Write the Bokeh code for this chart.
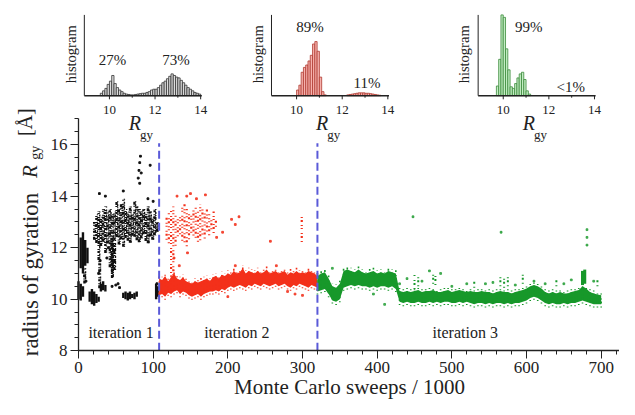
import math
from bokeh.plotting import figure
from bokeh.models import Range1d, SingleIntervalTicker
from bokeh.core.properties import value
from bokeh.embed import file_html
from bokeh.resources import INLINE

FONT = "Liberation Serif"

# ---------------- data ----------------
iteration_bounds = [108, 320]
iteration_names = ["iteration 1", "iteration 2", "iteration 3"]
iteration_label_x = [57, 212, 518]
iteration_label_y = [8.72, 8.72, 8.72]

# black (iteration 1): dense blobs (x, low, high)
black_seg_x = [0, 3, 6, 3, 6, 9, 12, 15, 18, 21, 24, 27, 30, 33, 36,
               60, 63, 66, 69, 72, 75, 78, 104, 106]
black_seg_lo = [10.0, 9.95, 10.1, 11.2, 11.0, 11.3, 11.4, 9.9, 9.8, 9.75, 9.85, 9.9,
                10.3, 10.35, 10.3, 10.05, 10.0, 9.95, 10.0, 10.05, 10.0, 10.1, 10.0, 10.1]
black_seg_hi = [10.7, 10.6, 10.5, 12.4, 12.6, 12.3, 12.0, 10.3, 10.4, 10.3, 10.2, 10.1,
                10.6, 10.7, 10.55, 10.25, 10.3, 10.25, 10.3, 10.2, 10.25, 10.3, 10.6, 10.5]
# black speckled cluster
black_dot_x = [21, 24, 27, 30, 33, 36, 39, 42, 45, 48, 51, 54, 57, 60, 63, 66, 69, 72,
               75, 78, 81, 84, 87, 90, 93, 96, 99, 102, 105, 8, 28, 45, 48]
black_dot_lo = [12.31, 12.18, 11.52, 12.07, 12.23, 11.79, 12.16, 11.24, 11.03, 12.28,
                12.41, 12.12, 12.33, 12.04, 12.38, 12.27, 12.19, 12.46, 12.42, 12.29,
                12.21, 12.37, 12.52, 12.26, 12.17, 12.43, 12.31, 12.48, 12.62, 10.61,
                10.43, 10.82, 11.13]
black_dot_hi = [13.0, 13.3, 13.4, 13.2, 13.5, 13.6, 13.4, 13.5, 13.3, 13.4, 13.8, 13.5,
                13.7, 13.9, 13.5, 13.4, 13.6, 13.3, 13.8, 13.6, 13.5, 13.4, 13.5, 13.3,
                13.6, 13.4, 13.2, 13.5, 13.0, 11.2, 11.5, 12.3, 12.3]
black_pt_x = [80, 81, 82, 83, 84, 82, 96, 93, 60, 36, 28, 100, 45, 50, 55, 53, 48, 47,
              46, 27, 29, 8, 10, 38, 40, 107, 105]
black_pt_y = [14.7, 15.0, 15.3, 15.55, 14.9, 14.5, 15.2, 13.9, 14.2, 14.0, 14.1, 13.8,
              10.5, 10.55, 10.45, 10.6, 11.5, 11.9, 11.3, 11.0, 11.5, 10.9, 10.7, 11.6,
              12.0, 10.4, 10.6]

# red (iteration 2): main band
red_x = [108, 112, 116, 120, 124, 128, 132, 136, 140, 144,
         148, 152, 156, 160, 164, 168, 172, 176, 180, 184,
         188, 192, 196, 200, 204, 208, 212, 216, 220, 224,
         228, 232, 236, 240, 244, 248, 252, 256, 260, 264,
         268, 272, 276, 280, 284, 288, 292, 296, 300, 304,
         308, 312, 316, 320]
red_lo = [10.15, 10.2, 10.1, 10.25, 10.2, 10.3, 10.35, 10.2, 10.3, 10.25,
          10.15, 10.1, 10.15, 10.2, 10.1, 10.2, 10.25, 10.3, 10.3, 10.35,
          10.3, 10.4, 10.35, 10.45, 10.5, 10.45, 10.5, 10.55, 10.5, 10.45,
          10.55, 10.5, 10.6, 10.55, 10.5, 10.6, 10.55, 10.5, 10.55, 10.6,
          10.5, 10.55, 10.6, 10.5, 10.45, 10.55, 10.5, 10.6, 10.55, 10.5,
          10.45, 10.55, 10.5, 10.45]
red_hi = [10.8, 10.75, 10.9, 10.7, 10.85, 11.0, 10.8, 10.75, 10.85, 10.7,
          10.65, 10.6, 10.7, 10.65, 10.7, 10.75, 10.8, 10.7, 10.85, 10.9,
          10.8, 10.95, 10.9, 11.0, 10.95, 11.1, 11.0, 11.05, 11.2, 11.0,
          11.1, 11.05, 11.0, 11.1, 11.0, 11.05, 11.15, 11.0, 11.05, 11.1,
          11.0, 11.05, 11.1, 10.95, 11.05, 11.0, 11.1, 11.0, 11.05, 11.0,
          11.1, 11.05, 11.0, 10.9]
# red speckled cluster
red_dot_x = [118, 121, 124, 127, 130, 133, 136, 139, 142, 145, 148, 151, 154, 157,
             160, 163, 166, 169, 172, 175, 178, 181, 184, 299]
red_dot_lo = [12.31, 12.17, 11.02, 10.93, 12.08, 12.44, 12.52, 12.27, 12.21, 12.06,
              12.33, 12.58, 12.47, 12.39, 12.23, 12.29, 12.51, 12.36, 12.63, 12.48,
              12.72, 12.57, 12.81, 12.22]
red_dot_hi = [13.2, 13.4, 13.5, 13.6, 13.3, 13.1, 13.2, 13.6, 13.7, 13.5, 13.4, 13.3,
              13.5, 13.6, 13.4, 13.7, 13.5, 13.4, 13.5, 13.3, 13.2, 13.4, 13.1, 13.3]
red_pt_x = [132, 150, 158, 185, 193, 205, 210, 215, 257, 146, 128, 135, 200, 210,
            280, 290, 300, 265, 145, 170]
red_pt_y = [14.0, 14.1, 13.9, 12.4, 12.6, 13.1, 12.9, 13.2, 12.25, 11.8, 11.6, 11.3,
            10.1, 11.3, 10.3, 10.2, 10.15, 11.3, 14.0, 14.05]

# green (iteration 3): main band
green_x = [320, 325, 330, 335, 340, 345, 350, 355, 360, 365,
           370, 375, 380, 385, 390, 395, 400, 405, 410, 415,
           420, 425, 430, 435, 440, 445, 450, 455, 460, 465,
           470, 475, 480, 485, 490, 495, 500, 505, 510, 515,
           520, 525, 530, 535, 540, 545, 550, 555, 560, 565,
           570, 575, 580, 585, 590, 595, 600, 605, 610, 615,
           620, 625, 630, 635, 640, 645, 650, 655, 660, 665,
           670, 675, 680, 685, 690, 695, 700]
green_lo = [10.3, 10.35, 10.4, 10.2, 9.95, 9.9, 10.0, 10.45, 10.5, 10.55,
            10.5, 10.55, 10.5, 10.5, 10.45, 10.5, 10.45, 10.5, 10.5, 10.45,
            10.5, 10.4, 9.9, 9.85, 9.9, 9.85, 9.85, 9.9, 9.85, 9.85,
            9.9, 9.85, 9.9, 9.85, 9.9, 9.9, 9.85, 9.85, 9.9, 9.85,
            9.9, 9.85, 9.8, 9.85, 9.85, 9.8, 9.85, 9.8, 9.85, 9.85,
            9.8, 9.85, 9.8, 9.85, 9.85, 9.9, 9.95, 10.05, 10.1, 10.05,
            9.95, 9.85, 9.8, 9.85, 9.8, 9.8, 9.85, 9.8, 9.85, 9.85,
            9.9, 9.95, 9.9, 9.85, 9.8, 9.8, 9.8]
green_hi = [10.9, 11.0, 11.05, 10.8, 10.5, 10.45, 10.6, 11.1, 11.15, 11.1,
            11.05, 11.15, 11.05, 11.0, 11.05, 11.1, 11.0, 11.05, 11.0, 11.1,
            11.05, 11.0, 10.32, 10.28, 10.32, 10.28, 10.32, 10.36, 10.28, 10.32,
            10.32, 10.36, 10.28, 10.28, 10.32, 10.36, 10.28, 10.32, 10.36, 10.32,
            10.28, 10.32, 10.28, 10.28, 10.32, 10.28, 10.28, 10.22, 10.28, 10.32,
            10.28, 10.28, 10.22, 10.28, 10.32, 10.36, 10.42, 10.5, 10.55, 10.5,
            10.42, 10.28, 10.22, 10.28, 10.22, 10.28, 10.22, 10.22, 10.28, 10.32,
            10.36, 10.5, 10.42, 10.28, 10.22, 10.18, 10.15]
green_spike_x = [675, 678]
green_spike_lo = [10.55, 10.6]
green_spike_hi = [11.1, 11.15]
green_dot_x = [450, 455, 475, 478, 530, 565, 570, 575, 595, 640, 695]
green_dot_lo = [10.4, 10.5, 10.6, 10.55, 10.45, 10.5, 10.45, 10.5, 10.6, 10.5, 10.5]
green_dot_hi = [10.95, 11.0, 11.05, 10.9, 10.7, 10.95, 10.9, 10.85, 10.95, 10.8, 10.8]
green_pt_x = [448, 566, 681, 681, 681, 430, 440, 460, 485, 500, 520, 545, 555, 585,
              610, 625, 650, 660, 690, 410, 395, 340, 470]
green_pt_y = [13.2, 12.6, 12.4, 12.1, 12.7, 10.6, 10.8, 10.7, 11.0, 10.5, 10.6, 10.6,
              10.65, 10.55, 10.7, 10.6, 10.6, 10.75, 10.7, 9.8, 10.2, 11.2, 11.1]

# histograms (bin centres, heights in % of inset axis height)
hist1_c = [9.65, 9.75, 9.85, 9.95, 10.05, 10.15, 10.25, 10.35, 10.45, 10.55,
           10.65, 10.75, 10.85, 10.95, 11.05, 11.15, 11.25, 11.35, 11.45, 11.55,
           11.65, 11.75, 11.85, 11.95, 12.05, 12.15, 12.25, 12.35, 12.45, 12.55,
           12.65, 12.75, 12.85, 12.95, 13.05, 13.15, 13.25, 13.35, 13.45, 13.55,
           13.65, 13.75, 13.85, 13.95]
hist1_h = [3, 6, 9, 14, 18, 25, 15, 10, 7, 5,
           3, 2, 1.5, 1, 1, 1.5, 2, 2.5, 3, 3,
           4, 5, 7, 8, 8, 10, 13, 16, 18, 21,
           24, 27, 25, 23, 22, 19, 16, 13, 10, 8,
           6, 4, 3, 2]
hist2_c = [10.05, 10.15, 10.25, 10.35, 10.45, 10.55, 10.65, 10.75, 10.85, 10.95,
           11.05, 11.15, 11.25, 12.25, 12.35, 12.45, 12.55, 12.65, 12.75, 12.85,
           12.95, 13.05, 13.15, 13.25, 13.35, 13.45, 13.55, 13.65]
hist2_h = [7, 13, 29, 35, 38, 43, 50, 64, 67, 55,
           23, 5, 1, 1, 1.5, 2, 2.5, 3, 3.5, 3.5,
           3.5, 3, 3, 2.5, 2, 1.5, 1, 0.5]
hist3_c = [9.75, 9.85, 9.95, 10.05, 10.15, 10.25, 10.35, 10.45, 10.55, 10.65,
           10.75, 10.85, 10.95, 11.05, 11.15]
hist3_h = [12, 45, 100, 97, 58, 32, 11, 9, 15, 22, 27, 29, 20, 6, 2]
hist_bin = 0.1
hist_ticks = [10, 12, 14]
hist_minor_ticks = [11, 13]
hist_pct = [["27%", "73%"], ["89%", "11%"], ["99%", "<1%"]]
hist_pct_x = [[10.14, 12.92], [10.59, 13.09], [11.12, 12.96]]
hist_pct_y = [[44, 44], [84.5, 15.5], [85.1, 10.7]]

# ---------------- layout (pixel geometry) ----------------
FIG_W, FIG_H = 619, 399
SX, SY = FIG_W / 635, FIG_H / 415          # reference image -> figure pixels
MX0, MY0 = 80 * SX, 364.3 * SY            # pixel of (x=0, y=8)
MPX, MPY = 0.766 * SX, 26.8 * SY          # pixels per unit
x_start, x_end = -MX0 / MPX, (FIG_W - MX0) / MPX
y_end, y_start = 8 + MY0 / MPY, 8 - (FIG_H - MY0) / MPY

p = figure(width=FIG_W, height=FIG_H, x_range=Range1d(x_start, x_end),
           y_range=Range1d(y_start, y_end), output_backend="svg",
           toolbar_location=None, min_border=0, min_border_left=0,
           min_border_right=0, min_border_top=0, min_border_bottom=0)
p.outline_line_color = None
p.grid.visible = False
p.background_fill_color = "white"
p.border_fill_color = "white"

for ax in (p.xaxis, p.yaxis):
    ax.major_label_text_font = FONT
    ax.major_label_text_font_size = "17px"
    ax.major_label_text_color = "#222222"
    ax.axis_line_color = "#222222"
    ax.axis_line_width = 1.3
    ax.major_tick_line_color = "#222222"
    ax.minor_tick_line_color = "#222222"
    ax.major_tick_in = 0
    ax.major_tick_out = 8
    ax.minor_tick_in = 0
    ax.minor_tick_out = 4
    ax.major_label_standoff = 3
p.xaxis.ticker = SingleIntervalTicker(interval=100, num_minor_ticks=5)
p.yaxis.ticker = SingleIntervalTicker(interval=2, num_minor_ticks=4)
p.xaxis.bounds = (0, x_end)
p.yaxis.bounds = (8, 17)
p.xaxis.fixed_location = 8
p.yaxis.fixed_location = 0

# inset geometry
INSET_LEFT = [86 * SX, 278 * SX, 490 * SX]
INSET_BOTTOM = 99 * SY
HX0, HX1 = 8.9, 14.05
HPX, HPY = 23.4 * SX, 0.84 * SY
xr = {}
for i, L in enumerate(INSET_LEFT):
    xr[f"h{i}"] = Range1d(HX0 - L / HPX, HX0 + (FIG_W - L) / HPX)
p.extra_x_ranges = xr
p.extra_y_ranges = {"hy": Range1d((INSET_BOTTOM - FIG_H) / HPY, INSET_BOTTOM / HPY)}

BLACK, RED, GREEN = "#111111", "#f3301a", "#17982a"
SPECKLE = "3 1 1 2 2 1 1 3 1 1"
SPECKLE2 = "1 2 2 1 1 1 3 2"
SPARSE = "1 3 2 2 1 4 1 2"
FUZZ = 0.12
INTERLEAVE = 1.5

# black
p.segment(x0=black_seg_x, y0=black_seg_lo, x1=black_seg_x, y1=black_seg_hi,
          line_color=BLACK, line_width=2.4)
p.segment(x0=black_dot_x, y0=black_dot_lo, x1=black_dot_x, y1=black_dot_hi,
          line_color=BLACK, line_width=2.4, line_dash=SPECKLE)
p.segment(x0=[v + INTERLEAVE for v in black_dot_x], y0=black_dot_hi,
          x1=[v + INTERLEAVE for v in black_dot_x], y1=black_dot_lo,
          line_color=BLACK, line_width=1.4, line_dash=SPECKLE2)
p.scatter(black_pt_x, black_pt_y, size=1.8, marker="square", color=BLACK)

# red
p.varea(x=red_x, y1=red_lo, y2=red_hi, fill_color=RED)
p.segment(x0=red_x, y0=[v - FUZZ for v in red_lo], x1=red_x,
          y1=[v + FUZZ for v in red_hi], line_color=RED, line_width=1.6,
          line_dash=SPARSE)
p.segment(x0=red_dot_x, y0=red_dot_lo, x1=red_dot_x, y1=red_dot_hi,
          line_color=RED, line_width=2.2, line_dash=SPARSE)
p.scatter(red_pt_x, red_pt_y, size=1.8, marker="square", color=RED, alpha=0.8)

# green
p.varea(x=green_x, y1=green_lo, y2=green_hi, fill_color=GREEN)
p.segment(x0=green_x, y0=[v - FUZZ for v in green_lo], x1=green_x,
          y1=[v + FUZZ for v in green_hi], line_color=GREEN, line_width=1.6,
          line_dash=SPARSE)
p.segment(x0=green_spike_x, y0=green_spike_lo, x1=green_spike_x, y1=green_spike_hi,
          line_color=GREEN, line_width=3)
p.segment(x0=green_dot_x, y0=green_dot_lo, x1=green_dot_x, y1=green_dot_hi,
          line_color=GREEN, line_width=2, line_dash=SPARSE)
p.scatter(green_pt_x, green_pt_y, size=1.8, marker="square", color=GREEN, alpha=0.7)

# iteration boundaries
p.segment(x0=iteration_bounds, y0=[8] * 2, x1=iteration_bounds, y1=[16.05] * 2,
          line_color="#5a5ad8", line_width=2, line_dash="8 4")
p.text(x=iteration_label_x, y=iteration_label_y, text=iteration_names,
       text_font=value(FONT), text_font_size="16px", text_color="#222222",
       text_align="center", text_baseline="middle")

# axis titles
TXT = dict(text_font=value(FONT), text_color="#222222", text_align="center",
           text_baseline="middle")
p.text(x=[-64], y=[10.96], text=["radius of gyration"], angle=math.pi / 2,
       text_font_size="23px", **TXT)
p.text(x=[-64.6], y=[14.95], text=["R"], angle=math.pi / 2, text_font_style="italic",
       text_font_size="21px", **TXT)
p.text(x=[-57.4], y=[15.68], text=["gy"], angle=math.pi / 2, text_font_size="14px",
       **TXT)
p.text(x=[-71], y=[16.87], text=["[Å]"], angle=math.pi / 2, text_font_size="20px",
       **TXT)
p.text(x=[363], y=[6.6], text=["Monte Carlo sweeps / 1000"], text_font_size="21px",
       **TXT)

# insets
hists = [(hist1_c, hist1_h, "#dcdcdc", "#333333"),
         (hist2_c, hist2_h, "#f6b2ae", "#b03a30"),
         (hist3_c, hist3_h, "#c4edc4", "#3a8a3a")]
for i, (c, h, fc, lc) in enumerate(hists):
    R = dict(x_range_name=f"h{i}", y_range_name="hy")
    p.quad(left=[v - hist_bin / 2 for v in c], right=[v + hist_bin / 2 for v in c],
           bottom=[0] * len(c), top=h, fill_color=fc, line_color=lc, line_width=0.8,
           **R)
    p.segment(x0=[HX0, HX0], y0=[0, 0], x1=[HX0, HX1], y1=[100, 0],
              line_color="#222222", line_width=[1, 1.6], **R)
    p.segment(x0=hist_ticks, y0=[0] * 3, x1=hist_ticks, y1=[-4.5] * 3,
              line_color="#222222", line_width=1, **R)
    p.segment(x0=hist_minor_ticks, y0=[0] * 2, x1=hist_minor_ticks, y1=[-2.5] * 2,
              line_color="#222222", line_width=1, **R)
    p.text(x=hist_ticks, y=[-17.9] * 3, text=[str(t) for t in hist_ticks],
           text_font_size="13px", **TXT, **R)
    p.text(x=hist_pct_x[i], y=hist_pct_y[i], text=hist_pct[i],
           text_font_size="15px", **TXT, **R)
    p.text(x=[11.12], y=[-33.3], text=["R"], text_font_style="italic",
           text_font_size="20px", **TXT, **R)
    p.text(x=[11.63], y=[-47.6], text=["gy"], text_font_size="13px", **TXT, **R)
    p.text(x=[8.30], y=[51.2], text=["histogram"], angle=math.pi / 2,
           text_font_size="14.5px", **TXT, **R)

open("out.html", "w").write(file_html(p, INLINE))
